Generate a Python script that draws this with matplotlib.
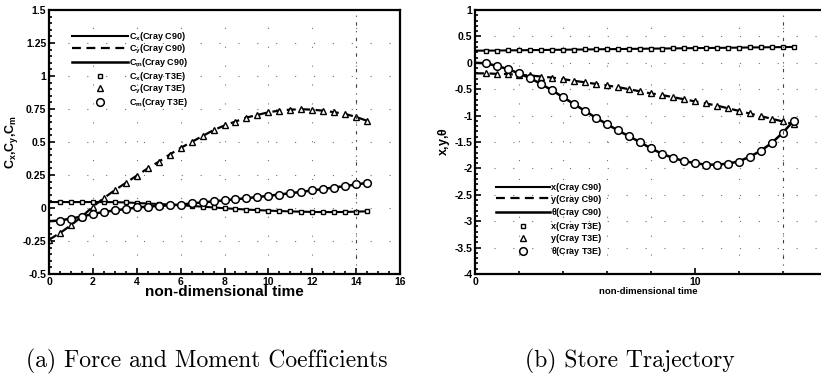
import matplotlib
matplotlib.use("Agg")
import matplotlib.pyplot as plt
from matplotlib.ticker import MultipleLocator, FixedLocator

plt.rcParams['font.family'] = ['Liberation Sans', 'DejaVu Sans']
plt.rcParams['font.weight'] = 'bold'
plt.rcParams['mathtext.default'] = 'regular'

# time samples (same for both runs)
t = [0, 0.5, 1, 1.5, 2, 2.5, 3, 3.5, 4, 4.5, 5, 5.5, 6, 6.5, 7, 7.5,
     8, 8.5, 9, 9.5, 10, 10.5, 11, 11.5, 12, 12.5, 13, 13.5, 14, 14.5]

# (a) force and moment coefficients
cx = [0.045, 0.045, 0.045, 0.045, 0.045, 0.045, 0.044, 0.042, 0.038, 0.034,
      0.03, 0.026, 0.021, 0.015, 0.01, 0.004, -0.002, -0.007, -0.012, -0.016,
      -0.02, -0.023, -0.026, -0.028, -0.03, -0.031, -0.031, -0.03, -0.028, -0.025]
cy = [-0.24, -0.19, -0.13, -0.065, 0.01, 0.075, 0.135, 0.19, 0.245, 0.3,
      0.35, 0.405, 0.455, 0.5, 0.545, 0.59, 0.625, 0.655, 0.685, 0.705,
      0.725, 0.738, 0.745, 0.748, 0.745, 0.737, 0.726, 0.712, 0.69, 0.66]
cm = [-0.1, -0.095, -0.08, -0.065, -0.045, -0.03, -0.018, -0.008, 0.004, 0.01,
      0.016, 0.02, 0.025, 0.035, 0.042, 0.05, 0.058, 0.066, 0.074, 0.083,
      0.092, 0.102, 0.112, 0.122, 0.133, 0.144, 0.155, 0.166, 0.178, 0.19]

# (b) store trajectory
xs = [0.23, 0.23, 0.232, 0.235, 0.237, 0.24, 0.242, 0.245, 0.247, 0.25,
      0.252, 0.255, 0.258, 0.26, 0.263, 0.265, 0.268, 0.27, 0.273, 0.275,
      0.278, 0.28, 0.282, 0.285, 0.287, 0.29, 0.292, 0.295, 0.297, 0.3]
ys = [-0.2, -0.2, -0.21, -0.215, -0.23, -0.24, -0.26, -0.28, -0.31, -0.34,
      -0.37, -0.4, -0.43, -0.46, -0.5, -0.54, -0.58, -0.61, -0.65, -0.69,
      -0.73, -0.77, -0.81, -0.86, -0.91, -0.96, -1.01, -1.06, -1.11, -1.16]
theta = [0.0, -0.01, -0.06, -0.12, -0.2, -0.29, -0.4, -0.52, -0.65, -0.78,
         -0.91, -1.04, -1.16, -1.28, -1.39, -1.5, -1.62, -1.72, -1.8, -1.86,
         -1.9, -1.93, -1.93, -1.91, -1.87, -1.78, -1.67, -1.52, -1.33, -1.1]

fig = plt.figure(figsize=(8.21, 3.84), dpi=100)
ax1 = fig.add_axes([0.0597, 0.2865, 0.4275, 0.6875])
ax2 = fig.add_axes([0.5786, 0.2865, 0.4214, 0.6875])


def style(ax):
    for s in ax.spines.values():
        s.set_linewidth(1.6)
    ax.tick_params(which='both', direction='in', top=False, right=False,
                   labelsize=7.5, width=1.2, pad=2)
    ax.tick_params(which='major', length=4)
    ax.tick_params(which='minor', length=2.5)
    for lab in ax.get_xticklabels() + ax.get_yticklabels():
        lab.set_fontweight('bold')


dots = dict(color='0.45', linestyle=(0, (1, 16)), linewidth=0.8)

# ---- left panel
ax1.plot(t, cx, '-', color='k', lw=1.5, label=r'C$_x$(Cray C90)')
ax1.plot(t, cy, '--', color='k', lw=1.6, dashes=(4, 2.5), label=r'C$_y$(Cray C90)')
ax1.plot(t, cm, '-', color='k', lw=1.8, label=r'C$_m$(Cray C90)')
ax1.plot(t[1:], cx[1:], 's', ms=3.5, mfc='white', mec='k', mew=1.0, label=r'C$_x$(Cray T3E)')
ax1.plot(t, cy, '^', ms=4, mfc='white', mec='k', mew=1.0, label=r'C$_y$(Cray T3E)')
ax1.plot(t[1:], cm[1:], 'o', ms=5.5, mfc='white', mec='k', mew=1.1, label=r'C$_m$(Cray T3E)')
ax1.axvline(14, color='0.25', lw=0.8, linestyle=(0, (3, 5, 1, 5)))
ax1.set_xlim(0, 16)
ax1.set_ylim(-0.5, 1.5)
ax1.xaxis.set_major_locator(MultipleLocator(2))
ax1.xaxis.set_minor_locator(MultipleLocator(0.5))
ax1.yaxis.set_minor_locator(MultipleLocator(0.05))
ax1.set_yticks([-0.5, -0.25, 0, 0.25, 0.5, 0.75, 1, 1.25, 1.5])
ax1.set_yticklabels(['-0.5', '-0.25', '0', '0.25', '0.5', '0.75', '1', '1.25', '1.5'])
ax1.grid(True, which='major', **dots)
style(ax1)
ax1.set_xlabel('non-dimensional time', fontsize=11, fontweight='bold', labelpad=-1)
ax1.set_ylabel(r'C$_x$,C$_y$,C$_m$', fontsize=9, fontweight='bold', labelpad=2)
ax1.legend(loc='upper left', bbox_to_anchor=(0.065, 0.925), frameon=False,
           handlelength=6.2, handletextpad=0.1, labelspacing=0.03,
           borderaxespad=0, borderpad=0, prop={'weight': 'bold', 'size': 6.5})

# ---- right panel
ax2.plot(t, xs, '-', color='k', lw=1.5, label='x(Cray C90)')
ax2.plot(t, ys, '--', color='k', lw=1.6, dashes=(4, 2.5), label='y(Cray C90)')
ax2.plot(t, theta, '-', color='k', lw=1.8, label=r'$\theta$(Cray C90)')
ax2.plot(t[1:], xs[1:], 's', ms=3.5, mfc='white', mec='k', mew=1.0, label='x(Cray T3E)')
ax2.plot(t[1:], ys[1:], '^', ms=4, mfc='white', mec='k', mew=1.0, label='y(Cray T3E)')
ax2.plot(t[1:], theta[1:], 'o', ms=5.5, mfc='white', mec='k', mew=1.1, label=r'$\theta$(Cray T3E)')
ax2.axvline(14, color='0.25', lw=0.8, linestyle=(0, (3, 5, 1, 5)))
ax2.set_xlim(0, 15.75)
ax2.set_ylim(-4, 1)
ax2.xaxis.set_major_locator(FixedLocator([0, 10]))
ax2.xaxis.set_minor_locator(MultipleLocator(2))
ax2.yaxis.set_minor_locator(MultipleLocator(0.1))
ax2.set_yticks([1, 0.5, 0, -0.5, -1, -1.5, -2, -2.5, -3, -3.5, -4])
ax2.set_yticklabels(['1', '0.5', '0', '-0.5', '-1', '-1.5', '-2', '-2.5', '-3', '-3.5', '-4'])
ax2.grid(True, which='major', axis='y', **dots)
ax2.grid(True, which='minor', axis='x', **dots)
ax2.spines['right'].set_visible(False)
style(ax2)
ax2.set_xlabel('non-dimensional time', fontsize=6.8, fontweight='bold', labelpad=0)
ax2.set_ylabel(r'x,y,$\theta$', fontsize=9, fontweight='bold', labelpad=2)
ax2.legend(loc='upper left', bbox_to_anchor=(0.06, 0.345), frameon=False,
           handlelength=6.0, handletextpad=0.15, labelspacing=0.3,
           borderaxespad=0, borderpad=0, prop={'weight': 'bold', 'size': 6.5})

# captions
fig.text(207 / 821, 1 - 367 / 384, '(a) Force and Moment Coefficients',
         family='cmr10', fontsize=17, ha='center', va='baseline')
fig.text(630 / 821, 1 - 367 / 384, '(b) Store Trajectory',
         family='cmr10', fontsize=17, ha='center', va='baseline')

fig.savefig('out.png', dpi=100)
